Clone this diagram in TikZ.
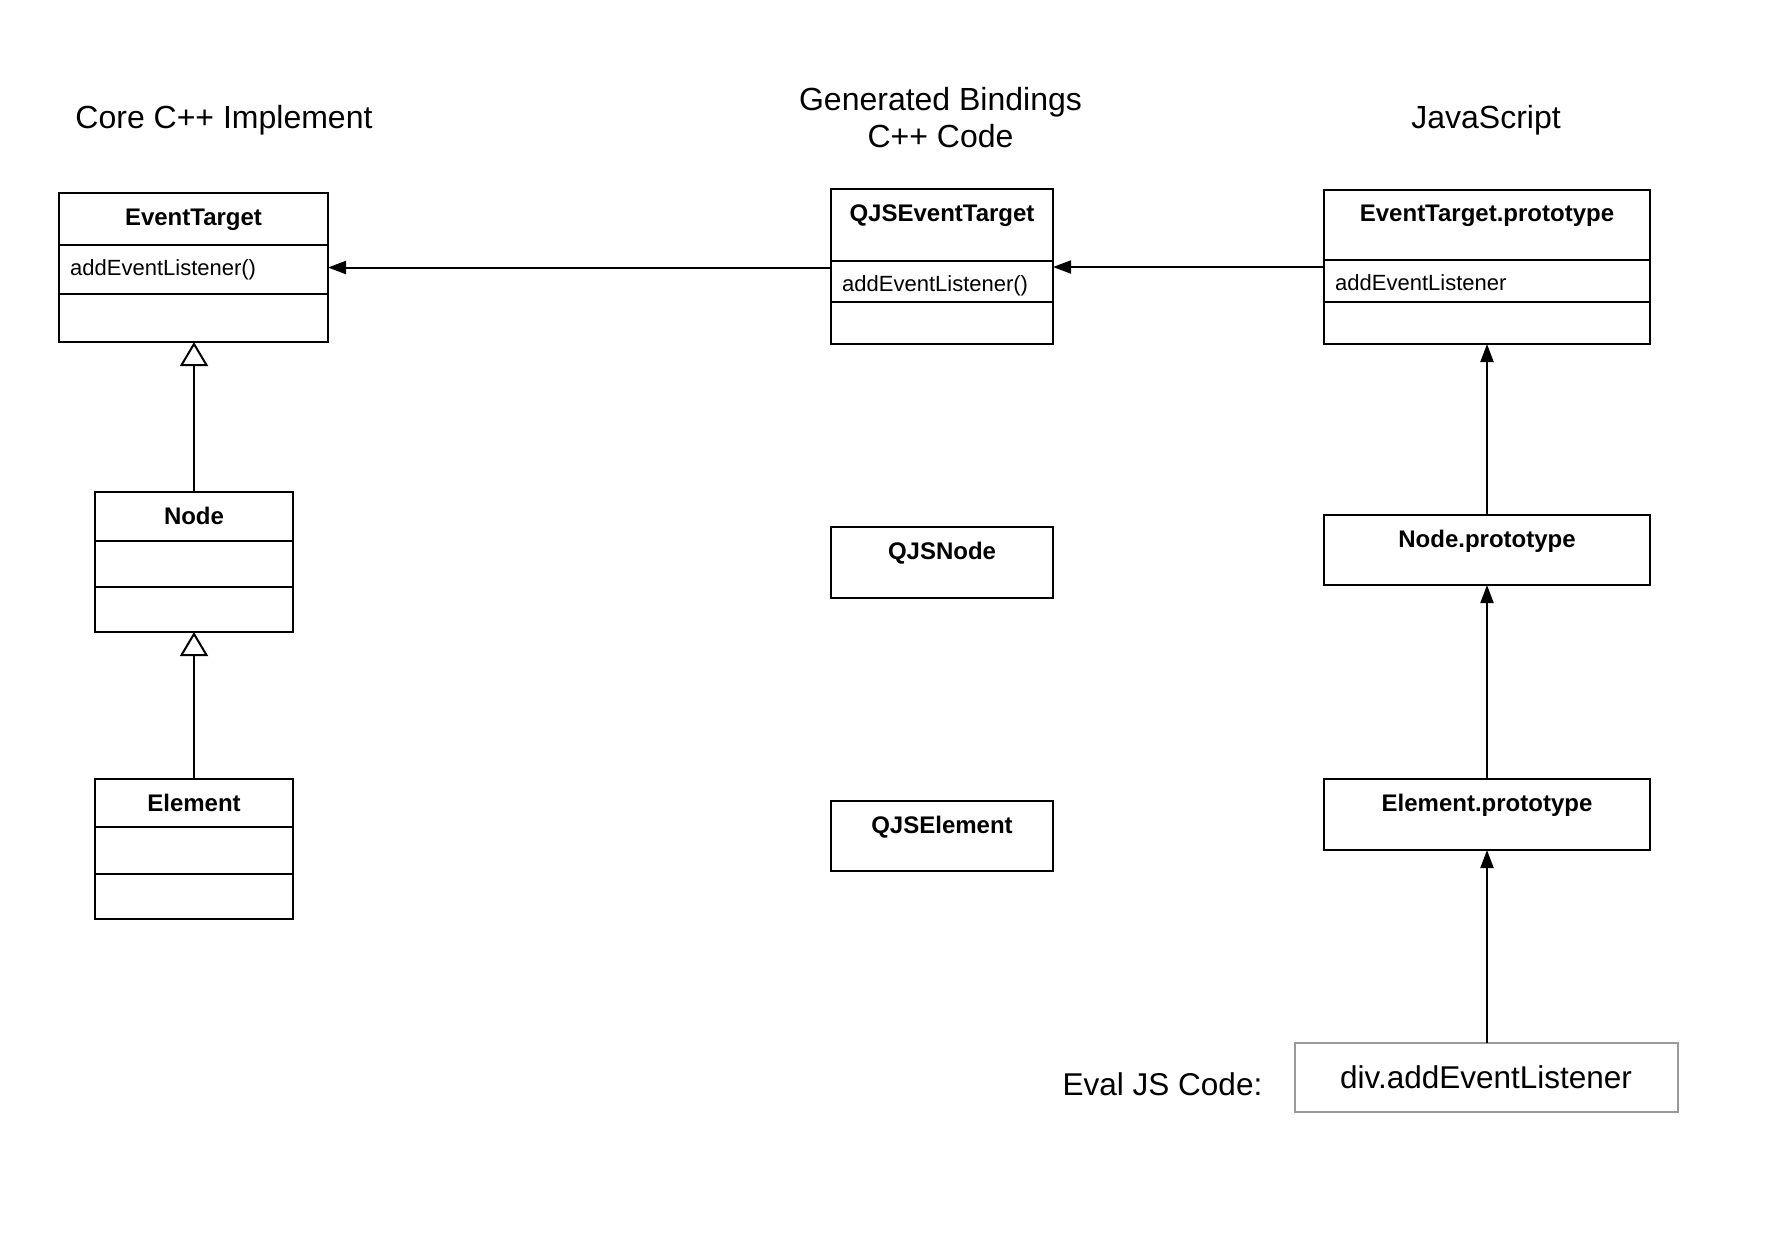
\documentclass[tikz,border=0pt]{standalone}
\usepackage{fontspec}
\setmainfont{Liberation Sans}
\usetikzlibrary{arrows.meta}
\definecolor{codegray}{HTML}{9A9A9A}
\begin{document}
\begin{tikzpicture}[x=1pt,y=-1pt,
  umlbox/.style={draw=black, line width=2pt, fill=white, inner sep=0pt, outer sep=0pt},
  divline/.style={line width=1.8pt},
  titletext/.style={font=\fontsize{24}{28}\selectfont\bfseries, inner sep=0pt, anchor=base},
  membertext/.style={font=\fontsize{22}{26}\selectfont, inner sep=0pt, anchor=base west},
  headtext/.style={font=\fontsize{32}{37}\selectfont, inner sep=0pt, anchor=base},
  codetext/.style={font=\fontsize{31.5}{36}\selectfont, inner sep=0pt, anchor=base},
  assoc/.style={line width=2pt, -{Triangle[length=18pt,width=13pt]}},
  inherit/.style={line width=2pt, -{Triangle[open,length=24pt,width=28pt,fill=white]}},
  codebox/.style={draw=codegray, line width=2pt, inner sep=0pt, outer sep=0pt}
]
\useasboundingbox[fill=white] (0,0) rectangle (1776,1240);

% headers
\node[headtext] (h1) at (224,128) {Core C++ Implement};
\node[headtext] (h2a) at (940.5,110) {Generated Bindings};
\node[headtext] (h2b) at (940.5,147) {C++ Code};
\node[headtext] (h3) at (1486,128) {JavaScript};

% left column
\node[umlbox, minimum width=269pt, minimum height=149pt] (et) at (193.5,267.5) {};
\draw[divline] (et.west |- 0,245) -- (et.east |- 0,245);
\draw[divline] (et.west |- 0,294) -- (et.east |- 0,294);
\node[titletext] (et-t) at (193.5,225) {EventTarget};
\node[membertext] (et-m) at (70,275) {addEventListener()};

\node[umlbox, minimum width=198pt, minimum height=140pt] (node) at (194,562) {};
\draw[divline] (node.west |- 0,541) -- (node.east |- 0,541);
\draw[divline] (node.west |- 0,587) -- (node.east |- 0,587);
\node[titletext] (node-t) at (194,524) {Node};

\node[umlbox, minimum width=198pt, minimum height=140pt] (elem) at (194,849) {};
\draw[divline] (elem.west |- 0,827) -- (elem.east |- 0,827);
\draw[divline] (elem.west |- 0,874) -- (elem.east |- 0,874);
\node[titletext] (elem-t) at (194,811) {Element};

% middle column
\node[umlbox, minimum width=222pt, minimum height=155pt] (qet) at (942,266.5) {};
\draw[divline] (qet.west |- 0,261) -- (qet.east |- 0,261);
\draw[divline] (qet.west |- 0,302) -- (qet.east |- 0,302);
\node[titletext] (qet-t) at (942,221) {QJSEventTarget};
\node[membertext] (qet-m) at (842,291) {addEventListener()};

\node[umlbox, minimum width=222pt, minimum height=71pt] (qnode) at (942,562.5) {};
\node[titletext] (qnode-t) at (942,559) {QJSNode};

\node[umlbox, minimum width=222pt, minimum height=70pt] (qelem) at (942,836) {};
\node[titletext] (qelem-t) at (942,833) {QJSElement};

% right column
\node[umlbox, minimum width=326pt, minimum height=154pt] (etp) at (1487,267) {};
\draw[divline] (etp.west |- 0,260) -- (etp.east |- 0,260);
\draw[divline] (etp.west |- 0,302) -- (etp.east |- 0,302);
\node[titletext] (etp-t) at (1487,221) {EventTarget.prototype};
\node[membertext] (etp-m) at (1335,290) {addEventListener};

\node[umlbox, minimum width=326pt, minimum height=70pt] (nodep) at (1487,550) {};
\node[titletext] (nodep-t) at (1487,547) {Node.prototype};

\node[umlbox, minimum width=326pt, minimum height=71pt] (elemp) at (1487,814.5) {};
\node[titletext] (elemp-t) at (1487,811) {Element.prototype};

% eval code
\node[codebox, minimum width=383pt, minimum height=69pt] (div) at (1486.5,1077.5) {};
\node[codetext] (div-t) at (1486,1088.5) {div.addEventListener};
\node[codetext] (eval) at (1162.5,1095) {Eval JS Code:};

% connectors
\draw[assoc] (qet.west |- et.east) -- (et.east);
\draw[assoc] (etp.west) -- (etp.west -| qet.east);
\draw[inherit] (node.north) -- (node.north |- et.south);
\draw[inherit] (elem.north) -- (node.south);
\draw[assoc] (nodep.north) -- (etp.south);
\draw[assoc] (elemp.north) -- (nodep.south);
\draw[assoc] (elemp.south |- div.north) -- (elemp.south);
\end{tikzpicture}
\end{document}
